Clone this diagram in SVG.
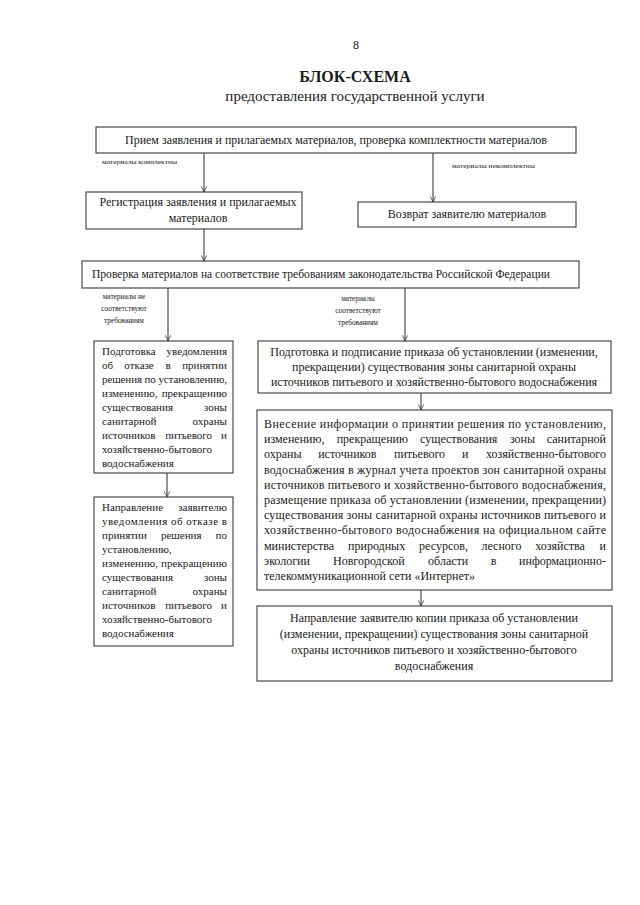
<svg xmlns="http://www.w3.org/2000/svg" width="640" height="905" viewBox="0 0 640 905">
<defs>
<style>
text{font-family:"Liberation Serif","Times New Roman",serif;fill:#1a1a1a;}
.t{font-size:12px;}
.s{font-size:11px;}
.c{text-anchor:middle;}
.r{text-anchor:end;}
.lab{font-size:6.5px;}
.lab2{font-size:7.3px;text-anchor:middle;}
.box{fill:#fff;stroke:#3a3a3a;stroke-width:1.1;}
.con{stroke:#2a2a2a;stroke-width:1;fill:none;}
</style>
<marker id="ah" viewBox="0 0 10 10" refX="9.5" refY="5" markerWidth="6" markerHeight="6" markerUnits="userSpaceOnUse" orient="auto">
<path d="M0,0.5 L9.5,5 L0,9.5" fill="none" stroke="#2a2a2a" stroke-width="1.2"/>
</marker>
</defs>
<rect width="640" height="905" fill="#fff"/>
<g id="header">
<text x="356" y="49" class="c" font-size="12">8</text>
<text x="355" y="82" class="c" font-size="16" font-weight="bold">БЛОК-СХЕМА</text>
<text x="355" y="101" class="c" font-size="15">предоставления государственной услуги</text>
</g>
<g id="connectors">
<line class="con" x1="204" y1="153" x2="204" y2="192" marker-end="url(#ah)"/>
<line class="con" x1="433" y1="153" x2="433" y2="202" marker-end="url(#ah)"/>
<line class="con" x1="204" y1="229" x2="204" y2="261" marker-end="url(#ah)"/>
<line class="con" x1="168" y1="288" x2="168" y2="341" marker-end="url(#ah)"/>
<line class="con" x1="405" y1="288" x2="405" y2="341" marker-end="url(#ah)"/>
<line class="con" x1="167" y1="473" x2="167" y2="497" marker-end="url(#ah)"/>
<line class="con" x1="421" y1="393" x2="421" y2="410" marker-end="url(#ah)"/>
<line class="con" x1="421" y1="590" x2="421" y2="606" marker-end="url(#ah)"/>
<text x="102" y="164" class="lab" textLength="75" lengthAdjust="spacingAndGlyphs">материалы комплектны</text>
<text x="452" y="168" class="lab" textLength="83" lengthAdjust="spacingAndGlyphs">материалы некомплектны</text>
<text x="124" y="299" class="lab2">материалы не</text>
<text x="124" y="311" class="lab2">соответствуют</text>
<text x="124" y="323" class="lab2">требованиям</text>
<text x="358" y="301" class="lab2">материалы</text>
<text x="358" y="313" class="lab2">соответствуют</text>
<text x="358" y="325" class="lab2">требованиям</text>
</g>
<g id="n1">
<rect class="box" x="96" y="127" width="480" height="26"/>
<text x="336" y="144" class="t c" textLength="422" lengthAdjust="spacingAndGlyphs">Прием заявления и прилагаемых материалов, проверка комплектности материалов</text>
</g>
<g id="n2">
<rect class="box" x="86" y="192" width="216" height="37"/>
<text x="198" y="206" class="t c">Регистрация заявления и прилагаемых</text>
<text x="198" y="222" class="t c">материалов</text>
</g>
<g id="n3">
<rect class="box" x="358" y="202" width="218" height="25"/>
<text x="467" y="218" class="t c">Возврат заявителю материалов</text>
</g>
<g id="n4">
<rect class="box" x="82" y="261" width="497" height="27"/>
<text x="321" y="278" class="t c" textLength="458" lengthAdjust="spacingAndGlyphs">Проверка материалов на соответствие требованиям законодательства Российской Федерации</text>
</g>
<g id="n5">
<rect class="box" x="94" y="341" width="139" height="132"/>
<text class="s" x="102" y="355">Подготовка</text><text class="s r" x="227" y="355">уведомления</text>
<text class="s" x="102" y="369">об</text><text class="s" x="124.3" y="369">отказе</text><text class="s" x="165.4" y="369">в</text><text class="s r" x="227" y="369">принятии</text>
<text class="s" x="102" y="383" textLength="125" lengthAdjust="spacing">решения по установлению,</text>
<text class="s" x="102" y="397">изменению,</text><text class="s r" x="227" y="397">прекращению</text>
<text class="s" x="102" y="411">существования</text><text class="s r" x="227" y="411">зоны</text>
<text class="s" x="102" y="425">санитарной</text><text class="s r" x="227" y="425">охраны</text>
<text class="s" x="102" y="439">источников</text><text class="s" x="165.2" y="439">питьевого</text><text class="s r" x="227" y="439">и</text>
<text class="s" x="102" y="453">хозяйственно-бытового</text>
<text class="s" x="102" y="467">водоснабжения</text>
</g>
<g id="n6">
<rect class="box" x="94" y="497" width="139" height="149"/>
<text class="s" x="102" y="511">Направление</text><text class="s r" x="227" y="511">заявителю</text>
<text class="s" x="102" y="525" textLength="125" lengthAdjust="spacing">уведомления об отказе в</text>
<text class="s" x="102" y="539">принятии</text><text class="s" x="160.9" y="539">решения</text><text class="s r" x="227" y="539">по</text>
<text class="s" x="102" y="553">установлению,</text>
<text class="s" x="102" y="567" textLength="125" lengthAdjust="spacing">изменению, прекращению</text>
<text class="s" x="102" y="581">существования</text><text class="s r" x="227" y="581">зоны</text>
<text class="s" x="102" y="595">санитарной</text><text class="s r" x="227" y="595">охраны</text>
<text class="s" x="102" y="609">источников</text><text class="s" x="165.2" y="609">питьевого</text><text class="s r" x="227" y="609">и</text>
<text class="s" x="102" y="623">хозяйственно-бытового</text>
<text class="s" x="102" y="637">водоснабжения</text>
</g>
<g id="n7">
<rect class="box" x="258" y="341" width="353" height="52"/>
<text x="434" y="356" class="t c">Подготовка и подписание приказа об установлении (изменении,</text>
<text x="434" y="371" class="t c">прекращении) существования зоны санитарной охраны</text>
<text x="434" y="386" class="t c">источников питьевого и хозяйственно-бытового водоснабжения</text>
</g>
<g id="n8">
<rect class="box" x="257" y="410" width="355" height="180"/>
<text class="t" x="264" y="428" textLength="342" lengthAdjust="spacing">Внесение информации о принятии решения по установлению,</text>
<text class="t" x="264" y="443">изменению,</text><text class="t" x="336.7" y="443">прекращению</text><text class="t" x="420" y="443">существования</text><text class="t" x="509.9" y="443">зоны</text><text class="t r" x="606" y="443">санитарной</text>
<text class="t" x="264" y="458">охраны</text><text class="t" x="318.2" y="458">источников</text><text class="t" x="394" y="458">питьевого</text><text class="t" x="461.9" y="458">и</text><text class="t r" x="606" y="458">хозяйственно-бытового</text>
<text class="t" x="264" y="474" textLength="342" lengthAdjust="spacing">водоснабжения в журнал учета проектов зон санитарной охраны</text>
<text class="t" x="264" y="489" textLength="342" lengthAdjust="spacing">источников питьевого и хозяйственно-бытового водоснабжения,</text>
<text class="t" x="264" y="504" textLength="342" lengthAdjust="spacing">размещение приказа об установлении (изменении, прекращении)</text>
<text class="t" x="264" y="519" textLength="342" lengthAdjust="spacing">существования зоны санитарной охраны источников питьевого и</text>
<text class="t" x="264" y="534" textLength="342" lengthAdjust="spacing">хозяйственно-бытового водоснабжения на официальном сайте</text>
<text class="t" x="264" y="550">министерства</text><text class="t" x="348.1" y="550">природных</text><text class="t" x="419.1" y="550">ресурсов,</text><text class="t" x="481.5" y="550">лесного</text><text class="t" x="535.3" y="550">хозяйства</text><text class="t r" x="606" y="550">и</text>
<text class="t" x="264" y="565">экологии</text><text class="t" x="333" y="565">Новгородской</text><text class="t" x="428.1" y="565">области</text><text class="t" x="490.7" y="565">в</text><text class="t r" x="606" y="565">информационно-</text>
<text class="t" x="264" y="580">телекоммуникационной сети «Интернет»</text>
</g>
<g id="n9">
<rect class="box" x="257" y="606" width="355" height="75"/>
<text x="434" y="622" class="t c">Направление заявителю копии приказа об установлении</text>
<text x="434" y="638" class="t c">(изменении, прекращении) существования зоны санитарной</text>
<text x="434" y="654" class="t c">охраны источников питьевого и хозяйственно-бытового</text>
<text x="434" y="670" class="t c">водоснабжения</text>
</g>
</svg>
